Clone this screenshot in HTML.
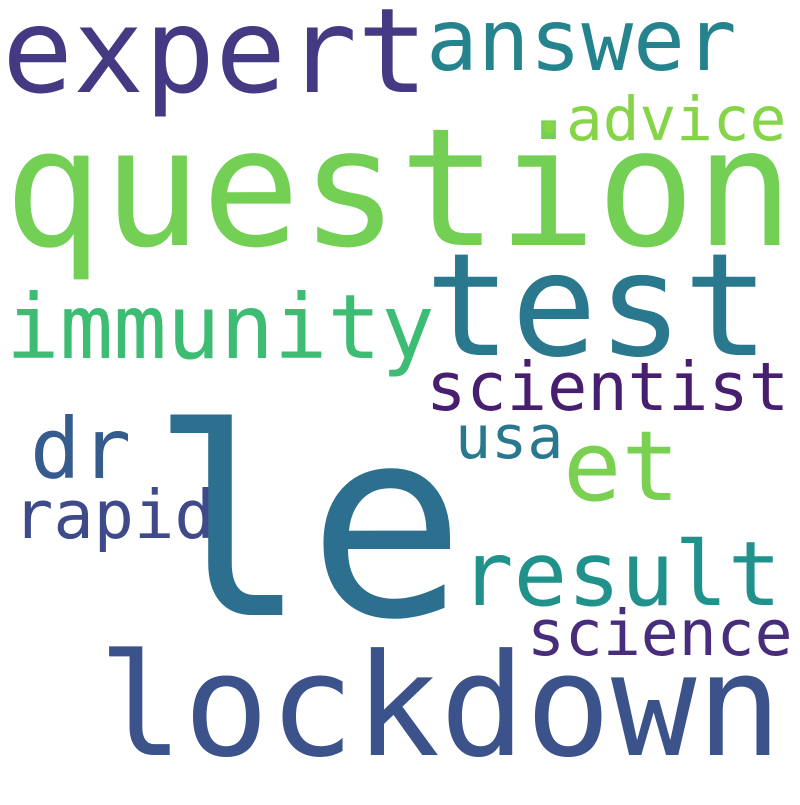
<!DOCTYPE html>
<html><head><meta charset="utf-8"><style>
html,body{margin:0;padding:0;background:#fff;}
svg text{font-family:"DejaVu Sans Mono","Liberation Mono",monospace;}
</style></head><body>
<svg width="800" height="800" viewBox="0 0 800 800">
<rect width="800" height="800" fill="#fff"/>
<text x="4" y="245" font-size="164" fill="#74d055">question</text>
<text x="2" y="92" font-size="118" fill="#443983">expert</text>
<text x="426" y="70" font-size="86" fill="#25838e">answer</text>
<circle cx="549" cy="127" r="6" fill="#86d549"/>
<text x="566" y="140" font-size="61" fill="#86d549">advice</text>
<text x="425" y="355" font-size="143" fill="#2a788e">test</text>
<text x="6" y="358" font-size="89" fill="#3dbc74">immunity</text>
<text x="426" y="410" font-size="67" fill="#481f70">scientist</text>
<text x="30" y="478" font-size="84" fill="#365c8d">dr</text>
<text x="563" y="500" font-size="97" fill="#7ad151">et</text>
<text x="455" y="458" font-size="60" fill="#2a788e">usa</text>
<text x="150" y="615" font-size="262" fill="#2c6f8e">le</text>
<text x="13" y="538" font-size="67" fill="#3e4a89">rapid</text>
<text x="460" y="605" font-size="89" fill="#21918c">result</text>
<text x="527" y="655" font-size="63" fill="#472d7b">science</text>
<text x="98" y="755" font-size="142" fill="#3b528b">lockdown</text>
</svg>
</body></html>
